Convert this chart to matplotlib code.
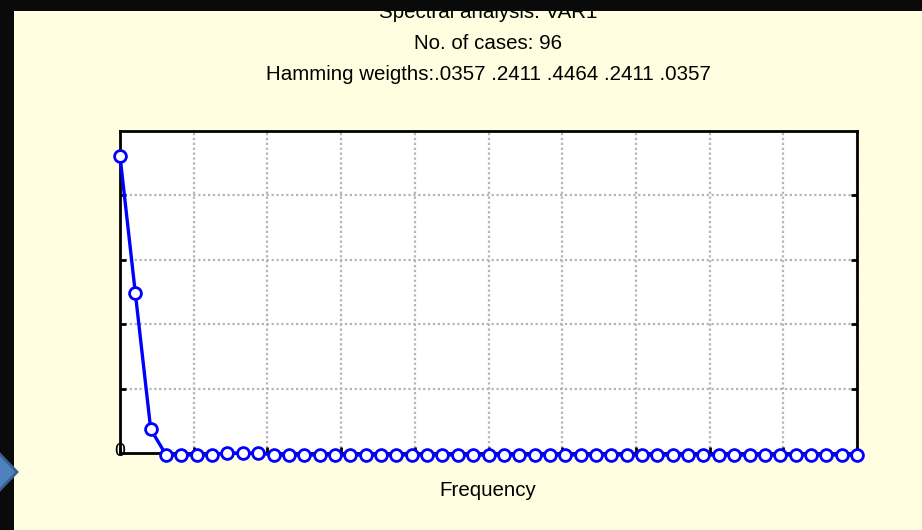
import numpy as np
import matplotlib.pyplot as plt
from matplotlib.patches import Rectangle, Polygon

plt.rcParams['font.family'] = ['Liberation Sans', 'DejaVu Sans']

# spectral density by Fourier frequency (96 cases -> 49 frequencies, 0 .. 0.5)
n_cases = 96
frequency = np.arange(49) / n_cases
density = [4.64, 2.51, 0.40, 0.0, 0.0, 0.0, 0.0, 0.03, 0.03, 0.03,
           0.0, 0.0, 0.0, 0.0, 0.0, 0.0, 0.0, 0.0, 0.0, 0.0,
           0.0, 0.0, 0.0, 0.0, 0.0, 0.0, 0.0, 0.0, 0.0, 0.0,
           0.0, 0.0, 0.0, 0.0, 0.0, 0.0, 0.0, 0.0, 0.0, 0.0,
           0.0, 0.0, 0.0, 0.0, 0.0, 0.0, 0.0, 0.0, 0.0]
weights = [".0357", ".2411", ".4464", ".2411", ".0357"]

W, H = 922, 530
bg = '#FFFEE0'

fig = plt.figure(figsize=(W / 100, H / 100), dpi=100, facecolor=bg)

def fx(px):
    return px / W

def fy(py):
    return 1 - py / H

ax = fig.add_axes([fx(120), fy(453), fx(857) - fx(120), (453 - 131) / H])
ax.set_facecolor('white')
ax.plot(frequency, density, color='#0000FF', lw=2.4, marker='o', ms=8.5,
        mfc='white', mec='#0000FF', mew=2.0, clip_on=False, zorder=5)

ax.set_xlim(0, 0.5)
ax.set_ylim(0.03, 5.03)
ax.set_xticks(np.arange(0, 0.501, 0.05))
ax.set_yticks(np.arange(1, 5) + 0.03)
ax.tick_params(direction='in', length=4, width=2, colors='black',
               labelleft=False, labelbottom=False, right=True, top=False)
ax.grid(True, color='#b4b4b4', lw=1.6, ls=(0, (1, 1.2)))
for s in ax.spines.values():
    s.set_linewidth(2)
    s.set_color('black')

# lone zero label on the y axis
fig.text(fx(120), fy(452), '0', fontsize=14, ha='center', va='center',
         color='black', zorder=6)

fs = 14.8
fig.text(fx(488), fy(18), 'Spectral analysis: VAR1', fontsize=fs,
         ha='center', va='baseline', zorder=1)
fig.text(fx(488), fy(49), f'No. of cases: {n_cases}', fontsize=fs,
         ha='center', va='baseline')
fig.text(fx(488), fy(80), 'Hamming weigths:' + ' '.join(weights),
         fontsize=fs, ha='center', va='baseline')
fig.text(fx(488), fy(496), 'Frequency', fontsize=fs, ha='center',
         va='baseline')

# black frame on top and left edges
fig.patches.append(Rectangle((0, fy(11)), 1, 11 / H, transform=fig.transFigure,
                             facecolor='#0a0a0a', edgecolor='none', zorder=10))
fig.patches.append(Rectangle((0, 0), fx(14), 1, transform=fig.transFigure,
                             facecolor='#0a0a0a', edgecolor='none', zorder=10))
# blue chevron on the left edge
chev = [(fx(-4), fy(450)), (fx(17), fy(472)), (fx(-4), fy(494))]
fig.patches.append(Polygon(chev, closed=True, transform=fig.transFigure,
                           facecolor='#4F81BD', edgecolor='#3A5F8F', lw=2,
                           zorder=11))

fig.savefig('out.png', dpi=100, facecolor=bg)
